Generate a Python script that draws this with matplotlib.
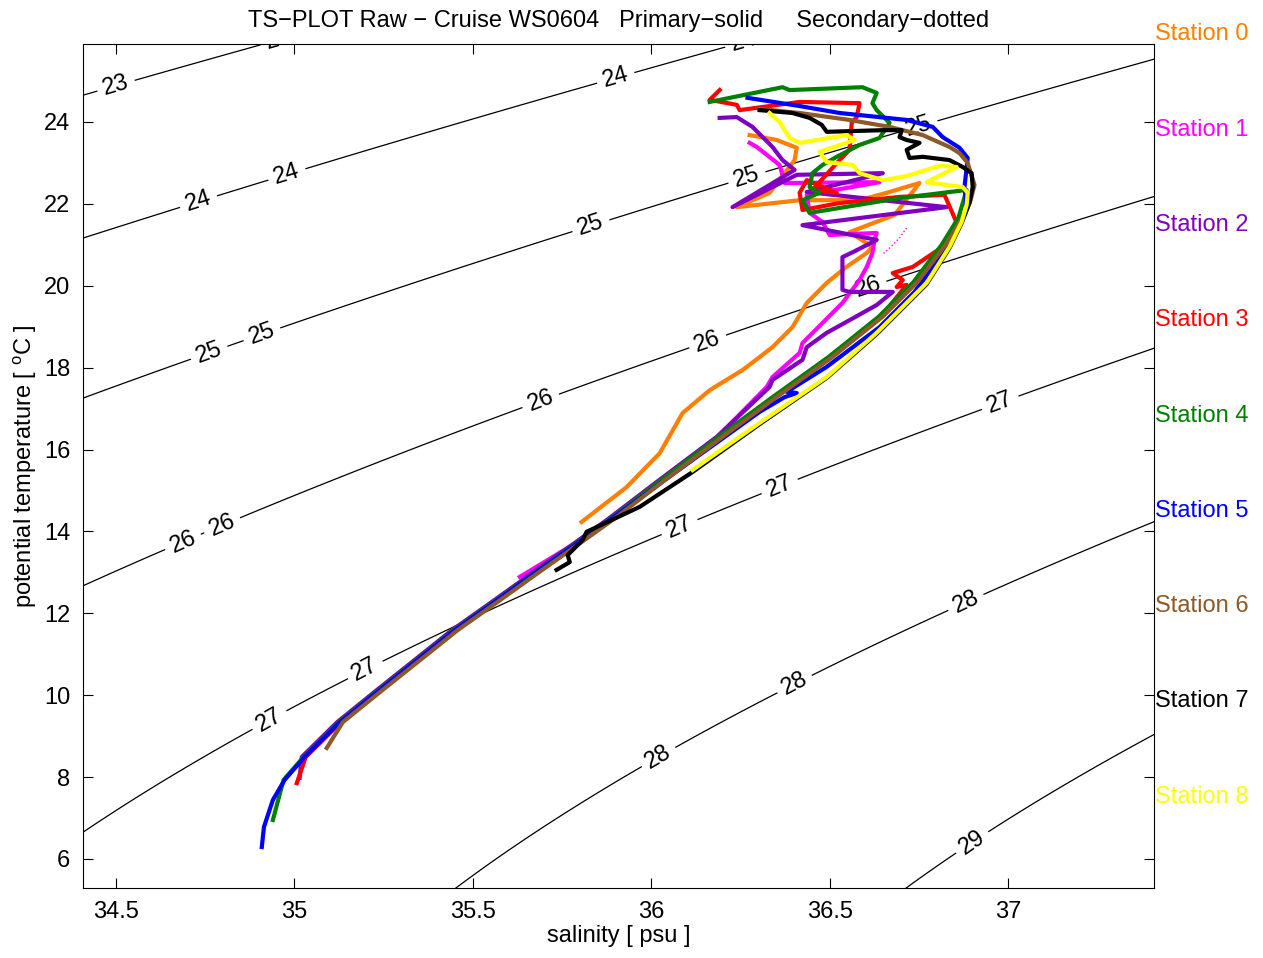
import numpy as np
import matplotlib.pyplot as plt

plt.rcParams['font.family'] = ['Liberation Sans', 'DejaVu Sans']
plt.rcParams['mathtext.fontset'] = 'custom'
plt.rcParams['mathtext.rm'] = 'Liberation Sans'
plt.rcParams['font.size'] = 17

# shared deep part of the profiles (salinity psu, potential temperature C)
trunk_sal = [34.909, 34.915, 34.940, 34.973, 35.029, 35.128, 35.240, 35.338, 35.450,
             35.562, 35.674, 35.786, 35.884, 36.024, 36.192, 36.340, 36.500, 36.640,
             36.738, 36.817, 36.864, 36.887, 36.898]
trunk_tem = [6.29, 6.78, 7.44, 7.93, 8.49, 9.34, 10.13, 10.81, 11.59,
             12.28, 12.98, 13.67, 14.28, 15.21, 16.31, 17.26, 18.26, 19.24,
             20.09, 21.00, 21.66, 22.09, 22.46]

# station 0 (orange) - own path from 14 C upward
sal_0 = [35.805, 35.931, 36.024, 36.088, 36.164, 36.256, 36.340, 36.396, 36.436, 36.492,
         36.547, 36.604, 36.620, 36.556, 36.682, 36.752, 36.660, 36.584, 36.416, 36.240,
         36.332, 36.402, 36.408, 36.352, 36.276]
tem_0 = [14.23, 15.08, 15.91, 16.89, 17.45, 17.94, 18.50, 18.99, 19.58, 20.07,
         20.46, 20.80, 20.95, 21.31, 21.73, 22.51, 22.27, 22.09, 22.09, 21.92,
         22.27, 23.07, 23.37, 23.56, 23.68]

# station 1 (magenta): trunk then upper part
sal_1 = [36.324, 36.340, 36.416, 36.424, 36.536, 36.584, 36.604, 36.620, 36.626, 36.632,
         36.500, 36.480, 36.444, 36.436, 36.640, 36.374, 36.360, 36.296, 36.276]
tem_1 = [17.53, 17.77, 18.36, 18.60, 19.58, 20.14, 20.46, 20.80, 21.12, 21.29,
         21.24, 21.56, 21.78, 22.22, 22.53, 22.51, 22.95, 23.39, 23.49]
# station 1 secondary sensor (dotted)
sec_sal_1 = [36.716, 36.696, 36.668, 36.646]
sec_tem_1 = [21.41, 21.17, 20.92, 20.75]

# station 2 (purple): trunk then upper part
sal_2 = [36.332, 36.340, 36.424, 36.436, 36.492, 36.556, 36.632, 36.677, 36.556, 36.536,
         36.536, 36.565, 36.632, 36.424, 36.828, 36.436, 36.649, 36.408, 36.228, 36.402,
         36.368, 36.340, 36.284, 36.240, 36.192]
tem_2 = [17.53, 17.70, 18.19, 18.50, 18.85, 19.16, 19.53, 19.85, 19.85, 19.90,
         20.70, 20.82, 21.12, 21.48, 21.92, 22.29, 22.75, 22.71, 21.92, 22.83,
         23.07, 23.39, 23.88, 24.12, 24.10]

# station 3 (red): trunk then upper part
sal_3 = [36.716, 36.688, 36.705, 36.677, 36.733, 36.817, 36.859, 36.822, 36.696, 36.528,
         36.424, 36.416, 36.436, 36.520, 36.452, 36.528, 36.556, 36.562, 36.576, 36.584,
         36.416, 36.248, 36.240, 36.164, 36.192]
tem_3 = [20.02, 19.97, 20.14, 20.31, 20.46, 20.95, 21.48, 22.22, 22.17, 22.02,
         21.85, 22.27, 22.58, 22.27, 22.34, 23.07, 23.32, 23.98, 24.12, 24.46,
         24.49, 24.29, 24.42, 24.54, 24.78]

# station 4 (green): trunk then upper part
sal_4 = [36.884, 36.696, 36.528, 36.444, 36.424, 36.472, 36.444, 36.452, 36.480, 36.520,
         36.584, 36.640, 36.668, 36.632, 36.620, 36.632, 36.592, 36.388, 36.368, 36.164]
tem_4 = [22.34, 22.14, 21.90, 21.78, 22.09, 22.27, 22.41, 22.75, 22.95, 23.15,
         23.44, 23.61, 23.98, 24.29, 24.46, 24.71, 24.85, 24.78, 24.85, 24.49]

# station 5 (blue): deep trunk, own thermocline, upper part
sal_5_mid = [36.136, 36.304, 36.374, 36.408, 36.380, 36.492, 36.640, 36.738, 36.822,
             36.870, 36.884, 36.878]
tem_5_mid = [15.87, 16.92, 17.28, 17.38, 17.41, 18.02, 18.99, 19.85, 20.82,
             21.56, 21.92, 22.41]
sal_5 = [36.887, 36.864, 36.817, 36.789, 36.716, 36.528, 36.416, 36.270]
tem_5 = [23.12, 23.37, 23.63, 23.88, 24.05, 24.22, 24.39, 24.59]

# station 6 (brown): trunk then upper part
sal_6 = [36.887, 36.864, 36.836, 36.761, 36.668, 36.556, 36.416, 36.304]
tem_6 = [23.00, 23.24, 23.39, 23.68, 23.88, 24.05, 24.22, 24.32]

# station 7 (black): short deep start, thermocline, upper part
sal_7_deep = [35.735, 35.772, 35.766, 35.808, 35.819, 35.968, 36.116, 36.304, 36.492,
              36.632, 36.772, 36.836, 36.870, 36.892, 36.901]
tem_7_deep = [13.06, 13.25, 13.42, 13.79, 13.99, 14.60, 15.45, 16.62, 17.75,
              18.82, 20.04, 20.92, 21.53, 22.02, 22.41]
sal_7 = [36.898, 36.873, 36.836, 36.789, 36.761, 36.724, 36.716, 36.752, 36.716, 36.696,
         36.702, 36.649, 36.492, 36.478, 36.444, 36.396, 36.304]
tem_7 = [22.75, 22.90, 23.07, 23.12, 23.15, 23.12, 23.32, 23.49, 23.56, 23.63,
         23.80, 23.80, 23.76, 23.93, 24.10, 24.22, 24.29]

# station 8 (yellow): own path
sal_8 = [36.116, 36.304, 36.492, 36.632, 36.772, 36.836, 36.870, 36.884, 36.887, 36.873,
         36.772, 36.856, 36.808, 36.716, 36.649, 36.584, 36.565, 36.492, 36.472, 36.570,
         36.548, 36.416, 36.388, 36.360, 36.332]
tem_8 = [15.50, 16.65, 17.77, 18.85, 20.07, 20.95, 21.56, 21.97, 22.27, 22.41,
         22.53, 22.90, 22.93, 22.68, 22.58, 22.75, 22.95, 23.02, 23.27, 23.56,
         23.68, 23.49, 23.61, 24.00, 24.22]

# first points of the stations that start above the deepest sample
start_sal = {1: 35.632, 2: 35.015, 3: 35.007, 4: 34.940, 6: 35.091}
start_tem = {1: 12.89, 2: 7.98, 3: 7.85, 4: 6.95, 6: 8.71}
# salinity offset of each station along the shared part
trunk_shift = [0.0, -0.006, -0.008, 0.003, -0.003, 0.0, 0.008, 0.0, 0.0]

names = ['Station %d' % i for i in range(9)]
colors = ['#ff7f00', '#ff00ff', '#8000c0', '#ff0000', '#008000', '#0000ff',
          '#8c5a28', '#000000', '#ffff00']
label_y = [34, 130, 225, 320, 416, 511, 606, 701, 797]


def sigma_theta(s, t):
    rw = (999.842594 + 6.793952e-2 * t - 9.095290e-3 * t**2 + 1.001685e-4 * t**3
          - 1.120083e-6 * t**4 + 6.536332e-9 * t**5)
    r = (rw + s * (0.824493 - 4.0899e-3 * t + 7.6438e-5 * t**2 - 8.2467e-7 * t**3 + 5.3875e-9 * t**4)
         + s**1.5 * (-5.72466e-3 + 1.0227e-4 * t - 1.6546e-6 * t**2) + 4.8314e-4 * s**2)
    return r - 1000


def station(i):
    tr_s = [v + trunk_shift[i] for v in trunk_sal]
    if i == 0:
        return sal_0, tem_0
    if i == 1:
        return [start_sal[1]] + tr_s[11:15] + sal_1, [start_tem[1]] + trunk_tem[11:15] + tem_1
    if i == 2:
        return [start_sal[2]] + tr_s[4:15] + sal_2, [start_tem[2]] + trunk_tem[4:15] + tem_2
    if i == 3:
        return [start_sal[3]] + tr_s[4:18] + sal_3, [start_tem[3]] + trunk_tem[4:18] + tem_3
    if i == 4:
        return [start_sal[4]] + tr_s[3:21] + sal_4, [start_tem[4]] + trunk_tem[3:21] + tem_4
    if i == 5:
        return tr_s[:13] + sal_5_mid + sal_5, trunk_tem[:13] + tem_5_mid + tem_5
    if i == 6:
        return [start_sal[6]] + tr_s[5:] + sal_6, [start_tem[6]] + trunk_tem[5:] + tem_6
    if i == 7:
        return sal_7_deep + sal_7, tem_7_deep + tem_7
    return sal_8, tem_8


fig = plt.figure(figsize=(12.63, 9.58), dpi=100)
ax = fig.add_axes([83 / 1263, 70 / 958, (1154 - 83) / 1263, (888 - 44) / 958])

S, T = np.meshgrid(np.linspace(34.2, 37.6, 300), np.linspace(4.5, 27, 300))
cs = ax.contour(S, T, sigma_theta(S, T), levels=np.arange(23, 30), colors='k',
                linewidths=0.9, zorder=1)
manual = [(34.50, 24.9), (34.96, 25.95), (36.26, 25.95), (35.90, 25.1), (34.73, 22.1),
          (34.98, 22.7), (34.76, 18.4), (34.91, 18.8), (35.83, 21.5), (36.27, 22.6),
          (36.75, 23.9), (34.68, 13.9), (34.79, 14.3), (35.69, 17.2), (36.16, 18.6),
          (36.61, 19.9), (34.93, 9.4), (35.20, 10.6), (36.08, 14.1), (36.36, 15.1),
          (36.98, 17.1), (36.02, 8.5), (36.40, 10.3), (36.88, 12.3), (36.90, 6.4)]
labels = ax.clabel(cs, fmt='%d', fontsize=17, manual=manual, inline=True, inline_spacing=4)
for t in labels:
    t.set_clip_on(True)
    t.set_zorder(1)

for i in range(9):
    s, t = station(i)
    ax.plot(s, t, color=colors[i], lw=3.0, zorder=2 + i, solid_joinstyle='round')
    if i == 1:
        ax.plot(sec_sal_1, sec_tem_1, color=colors[i], lw=1.0, ls=':', zorder=2 + i)
    fig.text(1155 / 1263, 1 - label_y[i] / 958, names[i], color=colors[i],
             ha='left', va='center', fontsize=17)

ax.set_xlim(34.408, 37.409)
ax.set_ylim(5.29, 25.905)
ax.set_xticks(np.arange(34.5, 37.01, 0.5))
ax.set_xticklabels(['34.5', '35', '35.5', '36', '36.5', '37'])
ax.set_yticks(np.arange(6, 25, 2))
ax.tick_params(direction='in', top=True, right=True, length=7, width=0.8, pad=9, labelsize=17)
for sp in ax.spines.values():
    sp.set_linewidth(0.8)

ax.set_title('TS\u2212PLOT Raw \u2212 Cruise WS0604   Primary\u2212solid     Secondary\u2212dotted',
             fontsize=17, pad=12)
ax.set_xlabel('salinity [ psu ]', fontsize=17, labelpad=2)
ax.set_ylabel(r'potential temperature [ $^{\rm o}$C ]', fontsize=17, labelpad=4)

fig.savefig('out.png', dpi=100)
